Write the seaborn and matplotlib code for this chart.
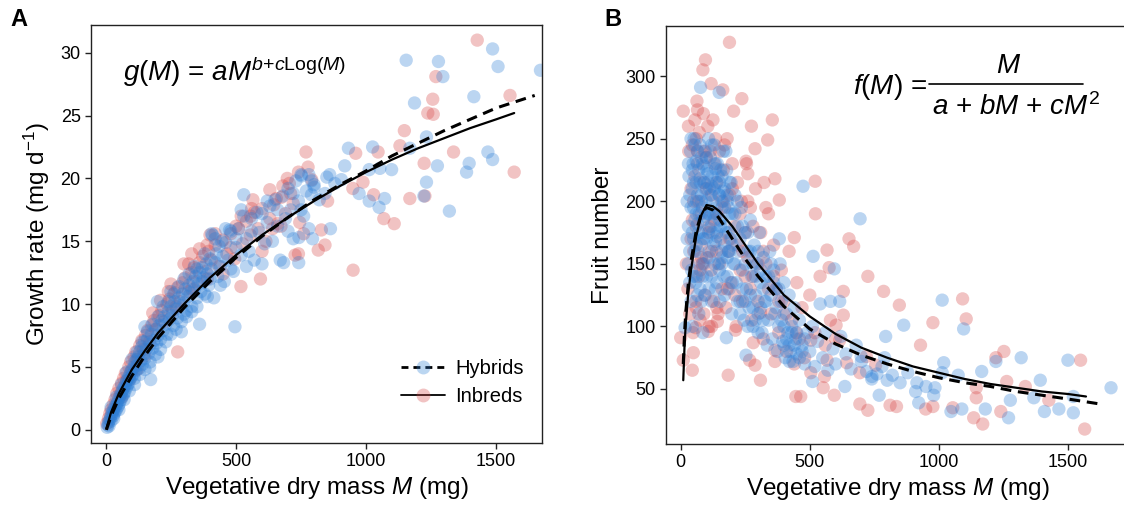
import pandas as pd
import matplotlib.pyplot as plt
from matplotlib.lines import Line2D
import seaborn as sns

# ---------------- panel A: growth rate vs vegetative mass ----------------
hyb_a_mass = [5, 8, 10, 12, 15, 18, 20, 22, 25, 28, 30, 32, 35, 38, 40, 42, 45, 48, 50, 52,
              55, 58, 60, 62, 65, 68, 70, 72, 75, 78, 80, 82, 85, 88, 90, 92, 95, 98, 100, 105,
              108, 110, 112, 115, 118, 120, 125, 128, 130, 135, 138, 140, 145, 148, 150, 155, 160, 165, 168, 170,
              175, 180, 185, 190, 195, 200, 205, 210, 215, 220, 225, 230, 235, 240, 245, 250, 255, 260, 265, 270,
              275, 280, 285, 290, 295, 300, 305, 310, 315, 320, 325, 330, 335, 340, 345, 350, 355, 360, 365, 370,
              375, 380, 385, 390, 395, 400, 405, 410, 415, 420, 425, 430, 435, 440, 445, 450, 455, 460, 470, 480,
              490, 500, 510, 520, 530, 540, 550, 560, 570, 580, 590, 600, 610, 620, 630, 640, 650, 660, 670, 680,
              690, 700, 710, 720, 730, 740, 750, 760, 770, 780, 790, 800, 820, 860, 880,
              1154, 1278, 1295, 1486, 1507, 1670, 1186, 1414, 1232, 1168, 1025, 932, 918, 1053, 1098, 1274, 1468, 1486, 1396, 1386,
              1232, 1222, 1320, 1071, 1050, 1012, 973, 1012, 905, 849, 752, 800, 842, 863, 794, 742, 741, 683, 530, 496,
              198, 172, 406, 475,
              20, 30, 40, 50, 60, 70, 80, 90, 100, 110, 120, 130, 140, 150, 160, 170, 180, 190, 200, 210,
              220, 230, 240, 250, 260, 270, 280, 290, 300, 310, 320, 330, 340, 350, 360, 370, 380, 390, 400, 420,
              440, 460, 480, 500, 520, 540, 560, 600, 620, 660, 700, 720, 750, 780, 790, 300, 350, 250, 200, 150]
hyb_a_rate = [0.2, 0.4, 0.6, 0.3, 0.8, 1.0, 0.7, 1.2, 1.4, 1.1, 1.6, 1.3, 1.8, 1.5, 2.0, 1.7, 2.2, 1.9, 2.5, 2.1,
              2.7, 2.4, 3.0, 2.6, 3.2, 2.8, 3.4, 3.0, 3.6, 3.3, 3.9, 3.5, 4.1, 3.7, 4.3, 4.0, 4.6, 4.2, 4.8, 4.4,
              5.0, 4.1, 5.4, 4.7, 5.6, 5.1, 5.8, 4.9, 6.2, 5.5, 6.6, 5.2, 6.0, 7.0, 5.7, 6.4, 7.2, 6.1, 5.0, 6.8,
              7.6, 6.5, 7.1, 8.0, 6.9, 7.5, 8.3, 7.2, 8.7, 7.9, 9.0, 8.4, 7.6, 9.4, 8.8, 9.8, 9.1, 8.3, 10.2, 9.6,
              8.9, 10.5, 9.9, 7.8, 10.8, 10.1, 11.2, 9.5, 10.6, 11.5, 10.9, 9.8, 11.8, 11.2, 12.2, 10.5, 11.6, 12.5, 11.0, 12.9,
              12.1, 10.8, 13.2, 12.4, 11.5, 13.6, 12.8, 15.5, 10.5, 13.3, 14.0, 12.2, 14.6, 13.0, 15.0, 13.8, 11.8, 14.9, 13.5, 15.8,
              12.6, 14.5, 16.0, 13.9, 17.0, 15.2, 14.2, 16.8, 13.5, 17.3, 15.7, 17.2, 14.8, 16.5, 17.8, 15.0, 18.3, 16.2, 13.5, 18.6,
              16.8, 19.2, 17.5, 15.2, 19.8, 18.2, 20.3, 17.0, 19.0, 16.0, 18.7, 19.5, 18.3, 20.3, 19.6,
              29.4, 29.3, 28.1, 30.3, 28.9, 28.6, 26.0, 26.5, 23.3, 22.4, 22.5, 22.4, 21.0, 20.8, 20.7, 21.0, 22.1, 21.5, 21.2, 20.5,
              19.7, 18.6, 17.4, 18.4, 17.7, 18.2, 18.8, 20.7, 19.9, 20.1, 20.2, 19.3, 18.8, 16.0, 15.2, 15.3, 13.3, 13.3, 18.7, 8.2,
              10.2, 4.0, 15.6, 15.9,
              1.8, 0.9, 2.6, 1.6, 3.6, 2.4, 4.6, 3.1, 5.6, 3.6, 6.2, 4.4, 7.0, 4.8, 7.8, 5.4, 8.4, 6.0, 9.0, 6.4,
              9.8, 7.0, 10.2, 7.6, 10.8, 8.0, 11.4, 8.6, 12.0, 9.0, 12.4, 9.4, 13.0, 9.8, 8.4, 11.8, 14.0, 10.6, 12.0, 15.2,
              11.5, 16.0, 12.8, 15.2, 17.5, 13.0, 15.8, 13.2, 18.2, 17.5, 15.8, 18.8, 17.5, 20.3, 19.8, 9.2, 12.8, 11.0, 5.8, 8.2]

inb_a_mass = [3, 10, 15, 20, 28, 35, 42, 50, 55, 60, 68, 75, 80, 88, 95, 100, 108, 115, 122, 130,
              138, 145, 152, 160, 168, 175, 185, 195, 205, 215, 225, 235, 245, 255, 265, 275, 285, 295, 305, 318,
              330, 340, 350, 360, 372, 385, 395, 405, 420, 435, 450, 465, 480, 495, 510, 525, 540, 555, 570, 585,
              600, 615, 630, 645, 660, 675, 690, 705, 720, 745, 760,
              1427, 1268, 1256, 1237, 1258, 1553, 1147, 1130, 1046, 960, 769, 1223, 1336, 1569, 1168, 1226, 1068, 1108, 1029, 988,
              949, 950, 852, 828, 842, 816, 727, 697, 630, 565, 556, 594, 519, 389, 318, 276, 777, 791, 655, 673, 740,
              60, 90, 120, 150, 180, 210, 240, 270, 300, 330, 360, 390, 420, 450, 480, 520, 560, 600, 640, 680,
              710, 740, 250, 330, 400, 500]
inb_a_rate = [0.5, 0.9, 1.3, 1.6, 2.0, 2.4, 2.9, 3.3, 2.8, 3.7, 4.1, 4.5, 3.9, 5.0, 5.4, 4.7, 5.8, 6.2, 5.6, 6.7,
              7.1, 6.4, 7.5, 7.9, 7.0, 8.3, 8.7, 8.0, 9.1, 9.5, 8.6, 10.0, 10.4, 9.4, 10.9, 11.3, 10.2, 11.7, 12.1, 11.0,
              12.5, 12.9, 11.8, 13.3, 13.8, 12.6, 14.2, 13.5, 14.7, 13.0, 15.1, 14.0, 15.6, 13.6, 16.0, 14.8, 16.6, 15.5, 17.3, 16.0,
              17.6, 15.0, 16.8, 17.9, 16.4, 18.5, 17.2, 19.6, 18.0, 16.5, 15.6,
              31.0, 28.1, 26.3, 25.2, 25.1, 26.6, 23.8, 22.6, 22.1, 22.0, 22.1, 21.2, 22.1, 20.5, 18.4, 18.6, 16.8, 16.4, 18.7, 19.7,
              19.2, 12.7, 18.2, 15.9, 14.7, 14.3, 13.9, 20.0, 19.1, 18.3, 17.0, 12.0, 11.4, 14.7, 13.2, 6.2, 20.9, 19.9, 18.4, 16.2, 14.0,
              2.6, 4.0, 4.8, 5.9, 9.3, 10.3, 11.0, 9.8, 13.2, 11.2, 14.4, 12.0, 15.6, 12.4, 14.5, 17.0, 17.6, 14.2, 16.0, 19.4,
              18.8, 20.5, 11.6, 14.0, 15.5, 16.2]

# fitted curves
fit_a_hyb_mass = [2, 20, 50, 100, 150, 200, 300, 400, 500, 600, 700, 800, 900, 1000, 1100, 1200, 1300, 1400, 1500, 1648]
fit_a_hyb_rate = [0.0, 1.1, 2.5, 4.3, 5.9, 7.3, 9.7, 11.8, 13.7, 15.4, 16.9, 18.3, 19.5, 20.6, 21.8, 22.8, 23.8, 24.7, 25.6, 26.6]
fit_a_inb_mass = [2, 20, 50, 100, 150, 200, 300, 400, 500, 600, 700, 800, 900, 1000, 1100, 1200, 1300, 1400, 1500, 1569]
fit_a_inb_rate = [0.1, 1.4, 2.9, 4.8, 6.3, 7.7, 10.0, 12.1, 13.9, 15.5, 16.9, 18.2, 19.4, 20.5, 21.5, 22.4, 23.2, 24.0, 24.7, 25.2]

# ---------------- panel B: fruit number vs vegetative mass ----------------
hyb_b_mass = [25, 30, 32, 35, 38, 40, 42, 45, 48, 50, 52, 55, 58, 60, 62, 65, 68, 70, 72, 75,
              78, 80, 82, 85, 88, 90, 92, 95, 98, 100, 102, 105, 108, 110, 112, 115, 118, 120, 122, 125,
              128, 130, 132, 135, 138, 140, 142, 145, 148, 150, 152, 155, 158, 160, 165, 168, 170, 175, 178, 180,
              185, 188, 190, 195, 198, 200, 205, 210, 215, 220, 225, 230, 235, 240, 245, 250, 255, 260, 265, 270,
              275, 280, 285, 290, 295, 300, 305, 310, 315, 320, 325, 330, 335, 340, 345, 350, 355, 360, 365, 370,
              375, 380, 385, 390, 395, 400, 405, 410, 415, 420, 425, 430, 435, 440, 445, 450, 460, 470, 480, 490,
              500, 510, 520, 530, 540, 550, 560, 570, 580, 590, 600, 620, 640, 660, 680, 700, 720, 740, 760, 780,
              800, 820, 850, 880, 910, 950, 980,
              77, 149, 474, 695, 382, 513, 595, 616, 1013, 864, 1096, 794, 790, 699, 1019, 1319, 1500, 1667, 1393, 1521,
              1521, 1465, 1409, 1368, 1270, 1277, 1180, 1166, 1221, 1075, 1089, 1047, 922, 915, 1013, 985, 769, 741, 636, 511,
              421, 400, 253, 177, 86, 17,
              30, 35, 40, 45, 50, 55, 60, 65, 70, 75, 80, 85, 90, 95, 100, 105, 110, 115, 120, 125,
              130, 135, 140, 145, 150, 155, 160, 165, 170, 175, 180, 185, 190, 195, 200, 210, 220, 230, 240, 250,
              260, 270, 280, 290, 300, 310, 320, 330, 340, 350, 360, 370, 380, 390, 400, 410, 420, 430, 440, 450,
              460, 470, 480, 55, 60, 65, 70, 75, 80, 85, 90, 100, 110, 120, 130, 140, 150, 160, 170, 180,
              190, 200, 210, 220, 230, 240, 250, 260, 270, 280, 290, 300, 310, 320, 40, 45, 50, 35, 30, 25,
              45, 60, 75, 90, 105, 120, 135, 150, 165, 180, 50, 65, 80, 95, 110, 125, 140, 155, 170, 185,
              60, 85, 110, 135, 160]
hyb_b_fruit = [200, 180, 220, 160, 240, 195, 145, 210, 230, 170, 250, 185, 135, 215, 200, 240, 160, 225, 190, 245,
               175, 205, 150, 230, 185, 215, 125, 240, 200, 170, 225, 190, 250, 155, 210, 235, 180, 140, 220, 200,
               165, 245, 190, 130, 215, 175, 230, 150, 205, 185, 120, 225, 160, 195, 240, 140, 210, 175, 225, 155,
               195, 130, 215, 170, 110, 190, 150, 205, 135, 180, 160, 120, 195, 145, 105, 175, 130, 160, 115, 185,
               140, 100, 165, 125, 150, 110, 175, 135, 95, 155, 120, 140, 85, 105, 160, 125, 90, 145, 110, 130,
               80, 100, 150, 120, 88, 135, 75, 110, 95, 125, 80, 100, 72, 115, 90, 78, 105, 85, 70, 95,
               80, 100, 68, 88, 118, 75, 95, 65, 120, 82, 70, 92, 78, 66, 85, 72, 64, 58, 62, 68,
               57, 61, 55, 63, 48, 52, 45,
               291, 287, 212, 186, 170, 156, 146, 120, 121, 101, 98, 92, 75, 76, 71, 75, 73, 51, 57, 44,
               31, 34, 32, 43, 27, 41, 34, 64, 72, 61, 34, 32, 39, 55, 63, 51, 45, 60, 52, 56,
               72, 85, 77, 91, 95, 99,
               230, 205, 250, 175, 215, 245, 190, 205, 175, 215, 235, 195, 170, 210, 235, 215, 190, 205, 245, 175,
               210, 230, 195, 220, 205, 185, 220, 200, 180, 240, 205, 175, 190, 215, 165, 190, 200, 170, 180, 150,
               175, 160, 150, 140, 160, 145, 130, 120, 140, 150, 135, 115, 130, 105, 100, 90, 85, 95, 85, 95,
               75, 80, 90, 160, 140, 125, 110, 130, 120, 140, 150, 140, 130, 120, 150, 135, 145, 150, 125, 140,
               160, 135, 150, 120, 110, 130, 120, 100, 125, 115, 105, 95, 115, 105, 120, 100, 140, 135, 150, 170,
               225, 232, 218, 228, 222, 212, 226, 215, 208, 200, 195, 182, 200, 188, 178, 190, 172, 180, 165, 160,
               165, 170, 160, 168, 155]

inb_b_mass = [22, 28, 30, 35, 40, 45, 48, 50, 55, 58, 60, 65, 70, 72, 75, 80, 85, 88, 90, 95,
              98, 100, 105, 108, 110, 115, 118, 120, 125, 128, 130, 135, 138, 140, 145, 150, 155, 160, 165, 170,
              175, 180, 185, 190, 195, 200, 210, 215, 220, 230, 235, 240, 250, 255, 260, 270, 275, 280, 290, 300,
              310, 320, 330, 340, 350, 360, 370, 380, 390, 400, 410, 420, 430, 440, 450, 460, 470, 480, 500, 520,
              540, 560, 580, 600,
              189, 96, 86, 118, 163, 10, 65, 63, 237, 205, 355, 274, 337, 65, 31, 288, 253, 260, 323, 365,
              521, 382, 330, 522, 440, 567, 652, 670, 575, 725, 630, 786, 847, 977, 929, 1092, 1106, 1252, 1221, 1549,
              1263, 1335, 1145, 1145, 1240, 1135, 1170, 1565, 1426, 1054, 977, 949, 811, 836, 725, 694, 595, 552, 557, 446,
              465, 504, 309, 184, 267, 288, 365, 45, 10, 0, 49, 58, 107, 142, 212, 309, 602, 630, 616, 567,
              643, 719, 694, 755, 504, 448, 365, 281,
              40, 50, 60, 70, 80, 90, 100, 110, 120, 130, 140, 150, 160, 170, 180, 190, 200, 210, 220, 230,
              240, 250, 260, 270, 280, 300, 320, 340, 360, 380, 400, 70, 75, 80, 60, 90, 120, 140, 45, 55]
inb_b_fruit = [150, 130, 260, 110, 170, 245, 95, 200, 265, 120, 180, 230, 140, 255, 105, 190, 150, 270, 215, 125,
               235, 155, 260, 175, 100, 240, 145, 205, 265, 120, 185, 250, 160, 215, 110, 240, 170, 130, 225, 195,
               115, 250, 160, 205, 135, 230, 180, 100, 215, 145, 200, 120, 175, 230, 155, 195, 105, 140, 210, 120,
               175, 90, 150, 190, 110, 165, 130, 95, 145, 120, 80, 160, 105, 70, 135, 90, 115, 75, 125, 95,
               140, 85, 105, 90,
               327, 313, 305, 294, 289, 272, 273, 280, 282, 272, 265, 260, 249, 240, 240, 242, 232, 222, 215, 218,
               216, 201, 195, 190, 171, 161, 170, 164, 147, 140, 128, 128, 117, 103, 85, 122, 106, 80, 75, 73,
               56, 52, 51, 43, 32, 27, 22, 18, 41, 35, 36, 34, 37, 36, 33, 38, 45, 51, 60, 44,
               44, 63, 57, 61, 73, 69, 72, 65, 73, 91, 79, 99, 96, 104, 97, 111, 101, 109, 89, 73,
               71, 76, 63, 69, 89, 95, 81, 87,
               210, 160, 250, 200, 165, 240, 210, 180, 160, 230, 190, 150, 200, 245, 130, 170, 210, 125, 165, 190,
               160, 140, 200, 130, 180, 150, 160, 130, 140, 120, 110, 150, 145, 155, 115, 110, 100, 115, 185, 220]

# fitted curves
fit_b_hyb_mass = [10, 15, 20, 30, 40, 60, 80, 100, 125, 150, 200, 250, 300, 400, 500, 600, 700, 800, 900,
                  1000, 1100, 1200, 1300, 1400, 1500, 1625]
fit_b_hyb_fruit = [70, 95, 112, 135, 152, 176, 190, 195, 193, 186, 170, 154, 140, 116, 98, 86, 77, 70, 64,
                   59, 55, 52, 48, 45, 42, 38]
fit_b_inb_mass = [10, 15, 20, 30, 40, 60, 80, 100, 125, 150, 200, 250, 300, 400, 500, 600, 700, 800, 900,
                  1000, 1100, 1200, 1300, 1400, 1500, 1570]
fit_b_inb_fruit = [57, 85, 103, 128, 145, 172, 189, 197, 196, 192, 180, 165, 150, 125, 108, 94, 83, 75, 68,
                   63, 58, 54, 51, 48, 46, 44]

blue = '#2e7fd6'
red = '#d64545'
pt_alpha = 0.32

sns.set_style('ticks')
plt.rcParams['font.family'] = ['Liberation Sans', 'DejaVu Sans']
plt.rcParams['mathtext.fontset'] = 'custom'
plt.rcParams['mathtext.rm'] = 'Liberation Sans'
plt.rcParams['mathtext.it'] = 'Liberation Sans:italic'
plt.rcParams['mathtext.bf'] = 'Liberation Sans:bold'
for key in ['text.color', 'axes.labelcolor', 'xtick.color', 'ytick.color']:
    plt.rcParams[key] = 'black'

fig = plt.figure(figsize=(11.24, 5.11), dpi=100)
ax_a = fig.add_axes([0.081, 0.133, 0.401, 0.818])
ax_b = fig.add_axes([0.5925, 0.131, 0.4125, 0.818])

# inbreds first so the hybrid cloud sits on top
pts_a = pd.concat([
    pd.DataFrame({'mass': inb_a_mass, 'val': inb_a_rate, 'group': 'Inbreds'}),
    pd.DataFrame({'mass': hyb_a_mass, 'val': hyb_a_rate, 'group': 'Hybrids'}),
])
pts_b = pd.concat([
    pd.DataFrame({'mass': inb_b_mass, 'val': inb_b_fruit, 'group': 'Inbreds'}),
    pd.DataFrame({'mass': hyb_b_mass, 'val': hyb_b_fruit, 'group': 'Hybrids'}),
])

for ax, pts in [(ax_a, pts_a), (ax_b, pts_b)]:
    sns.scatterplot(data=pts, x='mass', y='val', hue='group',
                    palette={'Hybrids': blue, 'Inbreds': red},
                    s=92, alpha=pt_alpha, linewidth=0, legend=False, ax=ax)

# fitted lines
sns.lineplot(x=fit_a_inb_mass, y=fit_a_inb_rate, color='black', lw=1.6,
             estimator=None, sort=False, ax=ax_a)
sns.lineplot(x=fit_a_hyb_mass, y=fit_a_hyb_rate, color='black', lw=2.2,
             estimator=None, sort=False, ax=ax_a).lines[-1].set_dashes((3.5, 2.2))
sns.lineplot(x=fit_b_inb_mass, y=fit_b_inb_fruit, color='black', lw=1.6,
             estimator=None, sort=False, ax=ax_b)
sns.lineplot(x=fit_b_hyb_mass, y=fit_b_hyb_fruit, color='black', lw=2.2,
             estimator=None, sort=False, ax=ax_b).lines[-1].set_dashes((3.5, 2.2))

# axes styling
ax_a.set_xlim(-57, 1675)
ax_a.set_ylim(-1.05, 32.2)
ax_a.set_xticks([0, 500, 1000, 1500])
ax_a.set_yticks([0, 5, 10, 15, 20, 25, 30])
ax_a.set_xlabel(r'Vegetative dry mass $M$ (mg)', fontsize=17.5, labelpad=3)
ax_a.set_ylabel(r'Growth rate (mg d$^{\mathrm{-1}}$)', fontsize=17.5, labelpad=6)

ax_b.set_xlim(-57, 1739)
ax_b.set_ylim(6, 340)
ax_b.set_xticks([0, 500, 1000, 1500])
ax_b.set_yticks([50, 100, 150, 200, 250, 300])
ax_b.set_xlabel(r'Vegetative dry mass $M$ (mg)', fontsize=17.5, labelpad=3)
ax_b.set_ylabel('Fruit number', fontsize=17.5, labelpad=8)

for ax in (ax_a, ax_b):
    ax.tick_params(axis='both', direction='out', length=4.5, width=1, labelsize=13,
                   color='#222222', pad=3)
    for sp in ax.spines.values():
        sp.set_linewidth(1.0)
        sp.set_color('#222222')
ax_b.spines['right'].set_visible(False)

# formulas
ax_a.text(0.071, 0.888, r'$g(M)$ = $aM^{b\mathrm{+}c\mathrm{Log}(M)}$', transform=ax_a.transAxes,
          fontsize=20, ha='left', va='center')
ax_b.text(0.403, 0.854, r'$f(M)$ =', transform=ax_b.transAxes, fontsize=20, ha='left', va='center')
ax_b.text(0.738, 0.905, r'$M$', transform=ax_b.transAxes, fontsize=20, ha='center', va='center')
ax_b.add_line(Line2D([0.567, 0.9], [0.861, 0.861], transform=ax_b.transAxes,
                     color='black', lw=1.2))
ax_b.text(0.574, 0.806, r'$a$ + $bM$ + $cM^{\mathrm{2}}$', transform=ax_b.transAxes,
          fontsize=20, ha='left', va='center')

# legend
handles = [
    Line2D([0], [0], color='black', lw=2.0, dashes=(2.5, 1.8), marker='o', markersize=10,
           markerfacecolor=(0.18, 0.5, 0.84, 0.32), markeredgewidth=0),
    Line2D([0], [0], color='black', lw=1.3, marker='o', markersize=10,
           markerfacecolor=(0.84, 0.27, 0.27, 0.32), markeredgewidth=0),
]
ax_a.legend(handles, ['Hybrids', 'Inbreds'], loc='lower right', bbox_to_anchor=(1.0, 0.045),
            frameon=False, fontsize=14.5, handlelength=2.2, handletextpad=0.5, labelspacing=0.45)

# panel letters
fig.text(0.009, 0.985, 'A', fontsize=17, fontweight='bold', ha='left', va='top')
fig.text(0.538, 0.985, 'B', fontsize=17, fontweight='bold', ha='left', va='top')

fig.savefig('out.png', dpi=100)
